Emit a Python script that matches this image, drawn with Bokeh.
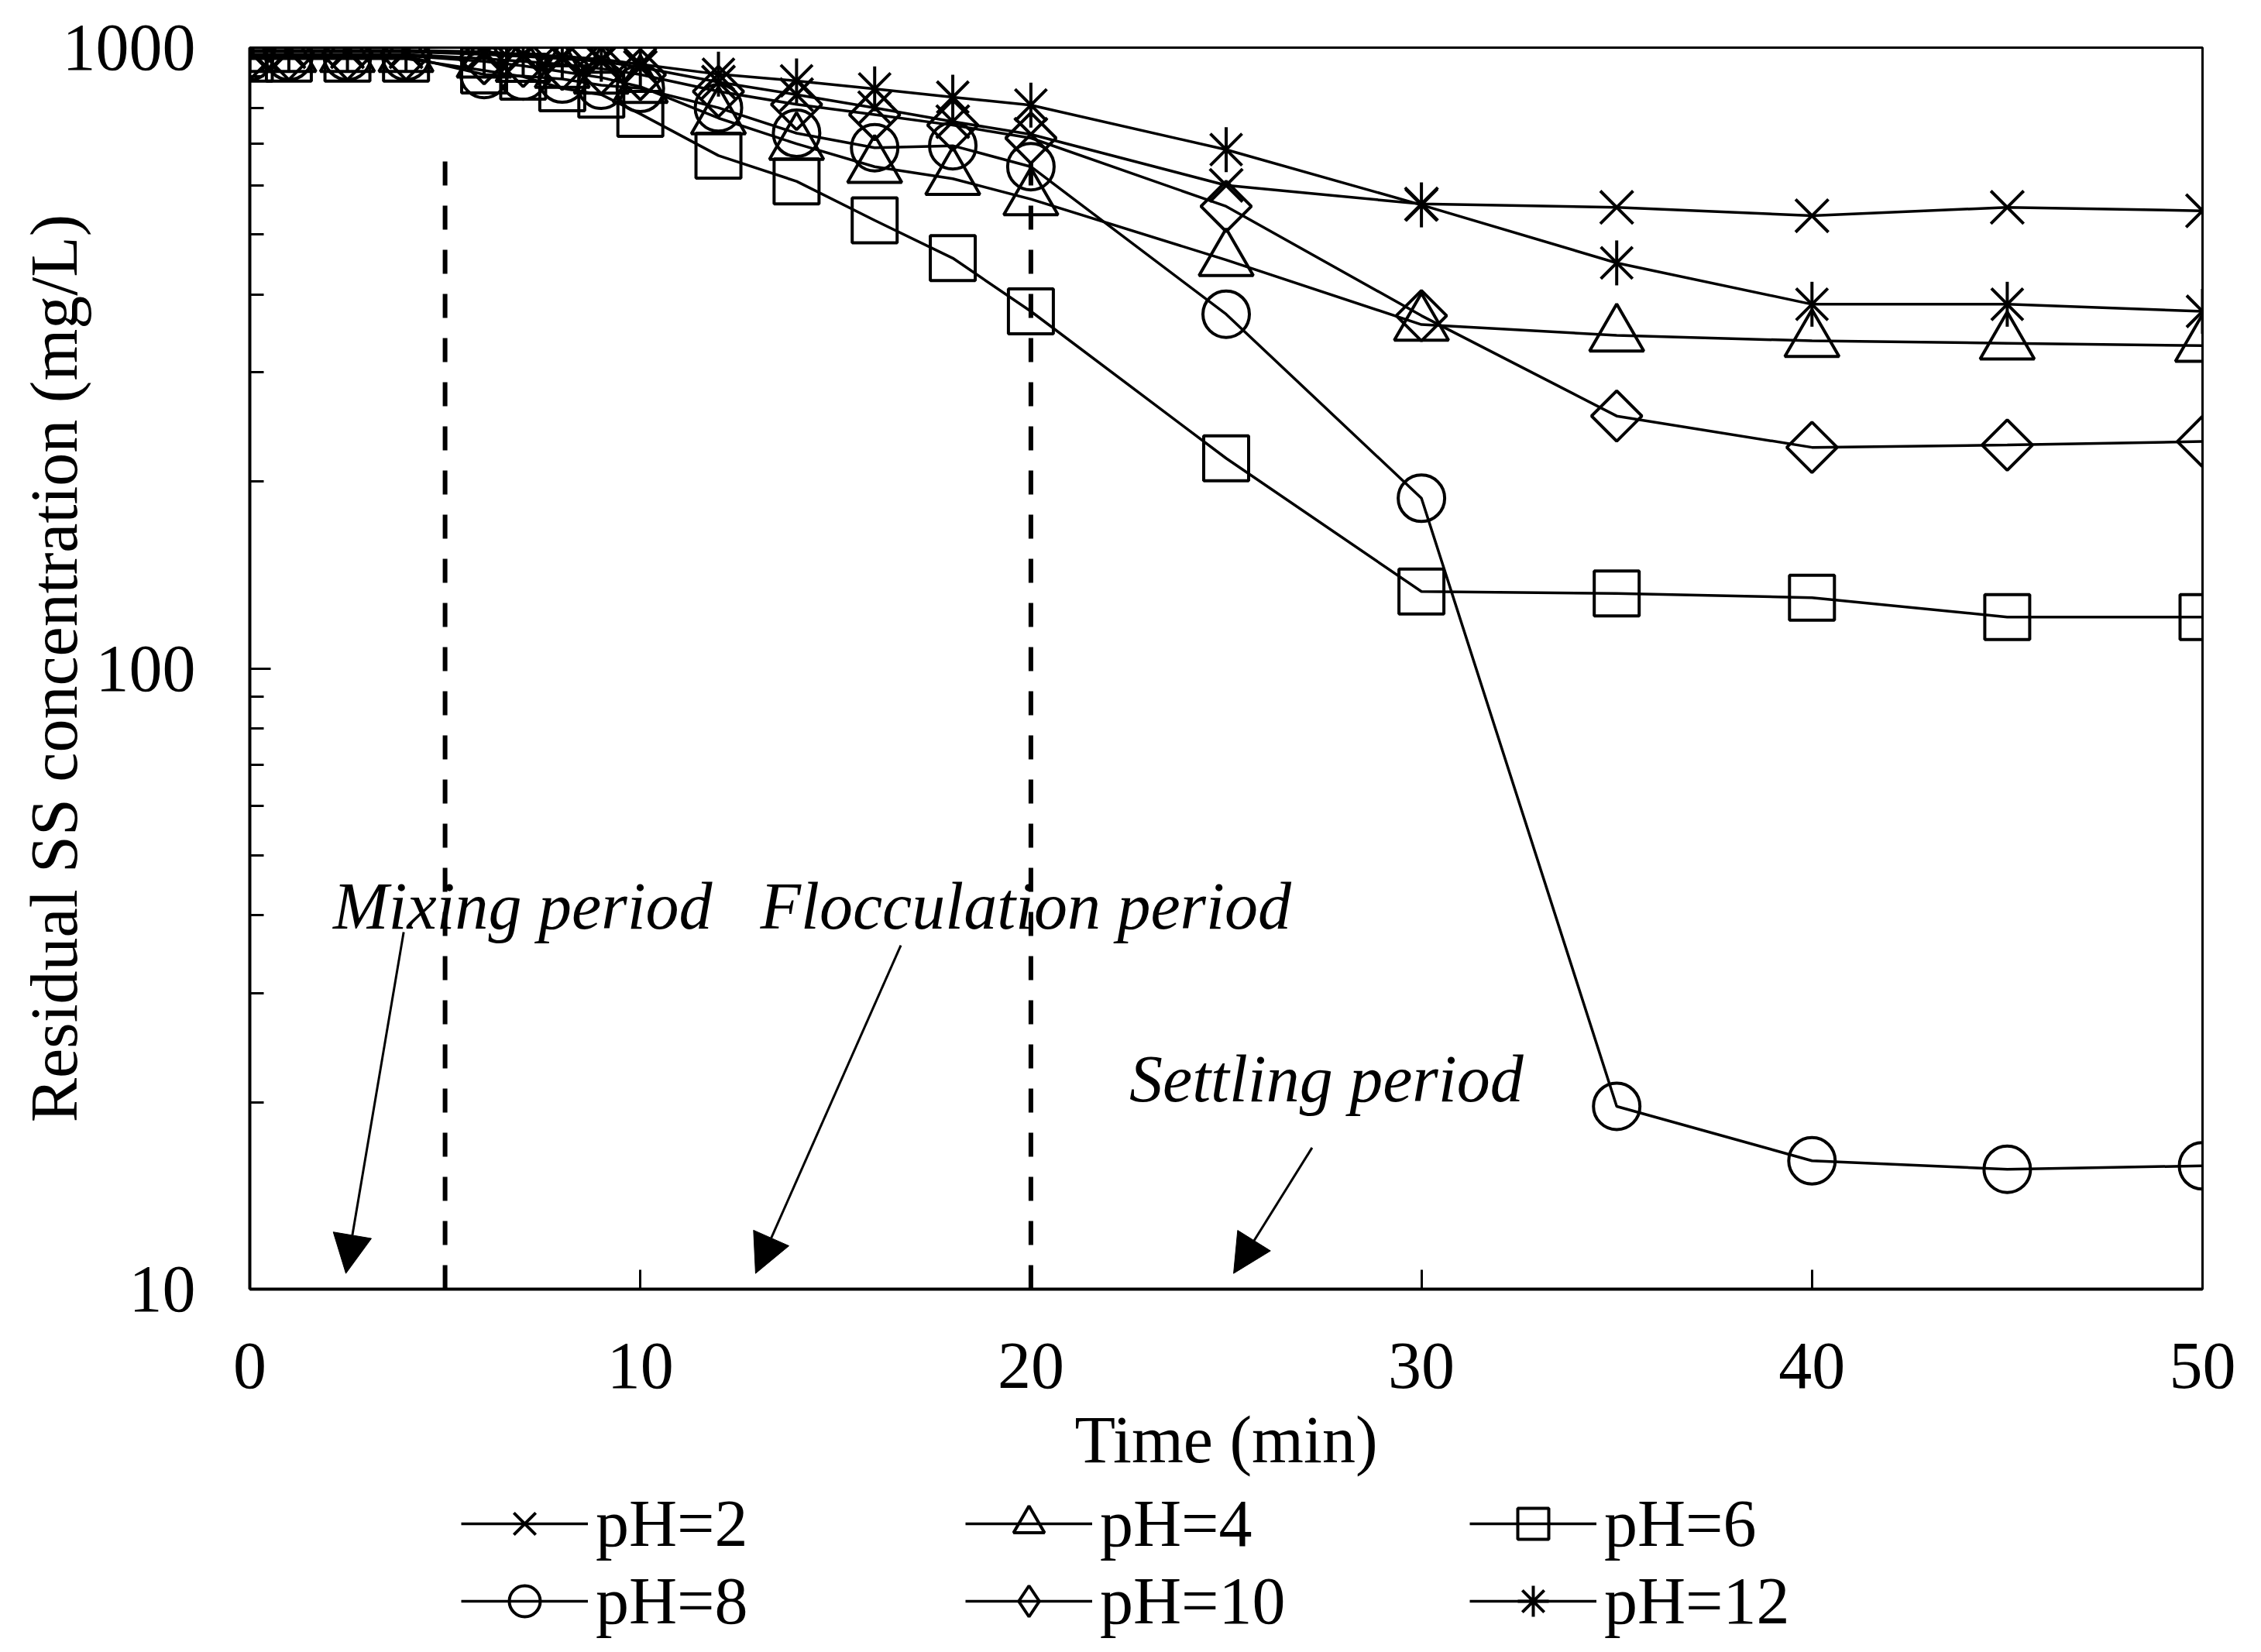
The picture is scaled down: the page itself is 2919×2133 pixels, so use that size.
import math
from bokeh.plotting import figure
from bokeh.layouts import column
from bokeh.models import (Legend, LegendItem, Label, Arrow, NormalHead,
                          FixedTicker, BasicTickFormatter)
from bokeh.embed import file_html
from bokeh.resources import INLINE

# ---------------- data ----------------
time_min = [0, 1, 2.5, 4, 6, 7, 8, 9, 10, 12, 14, 16, 18, 20, 25, 30, 35, 40, 45, 50]

ss_ph2 = [985, 985, 985, 985, 975, 968, 960, 950, 930, 880, 840, 800, 760, 725, 600, 560, 553, 536, 553, 546]
ss_ph4 = [970, 970, 970, 970, 950, 935, 915, 895, 865, 770, 700, 643, 615, 570, 455, 358, 344, 337, 334, 331]
ss_ph6 = [960, 960, 960, 960, 919, 898, 860, 840, 782, 670, 609, 527, 458, 376, 218, 133, 132, 130, 121, 121]
ss_ph8 = [968, 968, 968, 968, 905, 900, 890, 870, 860, 800, 728, 690, 695, 643, 372, 188, 19.7, 16.1, 15.6, 15.8]
ss_ph10 = [975, 975, 975, 975, 960, 950, 940, 925, 905, 850, 810, 780, 750, 715, 555, 370, 255, 227, 229, 232]
ss_ph12 = [990, 990, 990, 990, 985, 975, 968, 958, 940, 906, 884, 858, 832, 808, 685, 558, 450, 386, 386, 376]

series_labels = ["pH=2", "pH=4", "pH=6", "pH=8", "pH=10", "pH=12"]
series_values = [ss_ph2, ss_ph4, ss_ph6, ss_ph8, ss_ph10, ss_ph12]

period_bounds = [5, 20]
period_names = ["Mixing period", "Flocculation period", "Settling period"]

x_ticks = [0, 10, 20, 30, 40, 50]
y_ticks = [10, 100, 1000]
y_minor_ticks = [m * d for d in (10, 100) for m in range(2, 10)]

FONT = "Liberation Serif"
FS = "86px"
W = 2903
H_MAIN = 1950
OVERLAP = 45
H_LEG = 2117 - H_MAIN + OVERLAP

p = figure(width=W, height=H_MAIN, output_backend="svg", toolbar_location=None,
           x_range=(0, 50), y_range=(10, 1000), y_axis_type="log",
           min_border_left=322, min_border_top=61, min_border_right=60,
           min_border_bottom=H_MAIN - 1664)
p.background_fill_color = "white"
p.border_fill_color = "white"
p.grid.visible = False
p.outline_line_color = "black"
p.outline_line_width = 3

# axes
p.xaxis.ticker = FixedTicker(ticks=x_ticks)
p.yaxis.ticker = FixedTicker(ticks=y_ticks, minor_ticks=y_minor_ticks)
p.yaxis.formatter = BasicTickFormatter()
for ax in (p.xaxis[0], p.yaxis[0]):
    ax.axis_line_width = 4
    ax.axis_line_color = "black"
    ax.major_tick_line_color = "black"
    ax.major_tick_line_width = 3
    ax.minor_tick_line_color = "black"
    ax.minor_tick_line_width = 3
    ax.major_tick_out = 0
    ax.minor_tick_out = 0
    ax.major_label_text_font = FONT
    ax.major_label_text_font_size = FS
    ax.major_label_text_color = "black"
    ax.axis_label_text_font = FONT
    ax.axis_label_text_font_size = FS
    ax.axis_label_text_font_style = "normal"
    ax.axis_label_text_color = "black"
p.xaxis.major_tick_in = 25
p.xaxis.minor_tick_in = 0
p.yaxis.major_tick_in = 27
p.yaxis.minor_tick_in = 18
p.xaxis.axis_label = "Time (min)"
p.yaxis.axis_label = "Residual SS concentration (mg/L)"
p.xaxis.major_label_standoff = 70
p.xaxis.axis_label_standoff = 16
p.yaxis.major_label_standoff = 70
p.yaxis.axis_label_standoff = -40

# period boundaries (dashed)
for xb in period_bounds:
    p.line([xb, xb], [10, 680], line_color="black", line_width=6, line_dash="31 26")

# series
LW = 3.5
MW = 4
common = dict(line_color="black", line_width=MW, fill_alpha=0)
marker_specs = [
    [dict(marker="x", size=60)],
    [dict(marker="triangle", size=70)],
    [dict(marker="square", size=58)],
    [dict(marker="circle", size=60)],
    [dict(marker="square", size=46, angle=math.pi / 4)],
    [dict(marker="x", size=58), dict(marker="dash", size=58, angle=math.pi / 2)],
]
for vals, specs in zip(series_values, marker_specs):
    p.line(time_min, vals, line_color="black", line_width=LW)
    for sp in specs:
        p.scatter(time_min, vals, **common, **sp)

# arrows
arrow_tails = [(3.94, 37.6), (16.67, 35.8), (27.2, 16.9)]
arrow_tips = [(2.46, 10.6), (12.95, 10.6), (25.19, 10.6)]
for (x0, y0), (x1, y1) in zip(arrow_tails, arrow_tips):
    p.add_layout(Arrow(end=NormalHead(size=50, fill_color="black", line_color="black"),
                       x_start=x0, y_start=y0, x_end=x1, y_end=y1,
                       line_color="black", line_width=3))

# period labels
label_pos = [(2.13, 41.4), (13.07, 41.4), (22.52, 21.8)]
for name, (lx, ly) in zip(period_names, label_pos):
    p.add_layout(Label(x=lx, y=ly, text=name, text_font=FONT, text_font_size=FS,
                       text_font_style="italic", text_color="black",
                       text_baseline="alphabetic"))

# ---------------- legend strip (3 columns x 2 rows) ----------------
q = figure(width=W, height=H_LEG, output_backend="svg", toolbar_location=None,
           x_axis_type=None, y_axis_type=None, x_range=(0, 50), y_range=(10, 1000),
           min_border_left=0, min_border_right=0, min_border_top=0, min_border_bottom=0,
           margin=(-OVERLAP, 0, 0, 0))
q.grid.visible = False
q.outline_line_color = None
q.background_fill_alpha = 0
q.border_fill_alpha = 0

legend_markers = ["x", "triangle", "square", "circle", "diamond", "asterisk"]
items = []
for lab, vals, mk in zip(series_labels, series_values, legend_markers):
    ln = q.line(time_min, vals, line_color="black", line_width=LW, visible=False)
    sc = q.scatter(time_min, vals, marker=mk, size=40, line_color="black",
                   line_width=MW, fill_alpha=0, visible=False)
    items.append(LegendItem(label=lab, renderers=[ln, sc]))

lg = Legend(items=items, orientation="horizontal", ncols=3, location=(273, 0),
            glyph_width=164, glyph_height=100, label_standoff=10,
            label_width=477, spacing=0, padding=0, margin=0,
            label_text_font=FONT, label_text_font_size=FS,
            label_text_color="black", inactive_fill_alpha=0,
            border_line_alpha=0, background_fill_alpha=0)
q.add_layout(lg, "center")

layout = column(p, q, spacing=0)
open("out.html", "w").write(file_html(layout, INLINE))
